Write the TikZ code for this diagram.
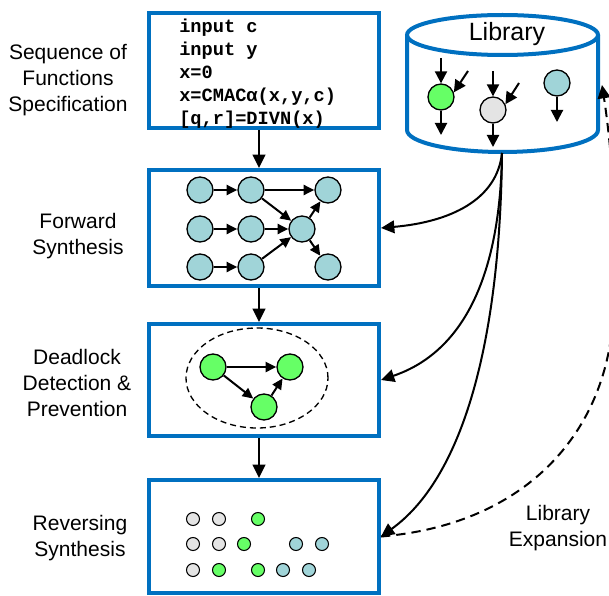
\documentclass[tikz,border=0pt]{standalone}
\usepackage{fontspec}
\setmainfont{Liberation Sans}
\setmonofont{Liberation Mono}
\usetikzlibrary{arrows.meta,calc,shapes.geometric}
\newdimen\pxu \pxu=0.75pt
\definecolor{boxblue}{RGB}{0,112,192}
\definecolor{tealc}{RGB}{160,212,216}
\definecolor{greenc}{RGB}{102,255,102}
\definecolor{grayc}{RGB}{228,228,228}
\begin{document}
\begin{tikzpicture}[x=0.75pt,y=-0.75pt,
  stage/.style={draw=boxblue,line width=3pt,minimum width=230\pxu,inner sep=0pt},
  lbl/.style={align=center,font=\fontsize{15.75}{19.5}\selectfont},
  code/.style={anchor=base west,inner sep=0pt,font=\fontsize{14}{17}\selectfont\ttfamily\bfseries},
  big/.style={circle,draw,line width=1pt,minimum size=26\pxu,inner sep=0pt},
  small/.style={circle,draw,line width=0.8pt,minimum size=13\pxu,inner sep=0pt},
  tealn/.style={big,fill=tealc},
  greenn/.style={big,fill=greenc},
  grayn/.style={big,fill=grayc},
  stl/.style={small,fill=tealc},
  sgr/.style={small,fill=greenc},
  sgy/.style={small,fill=grayc},
  arr/.style={line width=1.5pt,-{Triangle[length=10pt,width=9.5pt]}},
  garr/.style={line width=1.5pt,-{Triangle[length=8pt,width=7.5pt]}},
  larr/.style={line width=1.5pt,-{Triangle[length=9pt,width=9pt]}},
  cyl/.style={draw=boxblue,line width=3pt},
  dasharr/.style={line width=1.5pt,dash pattern=on 7pt off 4.5pt,-{Triangle[length=10pt,width=9.5pt]}}
]
\useasboundingbox (0,0) rectangle (609,595);
\clip (0,0) rectangle (609,595);

% stage boxes
\node[stage,minimum height=115\pxu] (box1) at (264,70.5) {};
\node[stage,minimum height=116\pxu] (box2) at (264,228) {};
\node[stage,minimum height=112\pxu] (box3) at (264,380) {};
\node[stage,minimum height=113\pxu] (box4) at (264,536.5) {};

% left labels
\node[lbl] (lab1) at (68,80) {Sequence of\\Functions\\Specification};
\node[lbl] (lab2) at (78,236) {Forward\\Synthesis};
\node[lbl] (lab3) at (77,383) {Deadlock\\Detection \&\\Prevention};
\node[lbl] (lab4) at (80,538) {Reversing\\Synthesis};
\node[lbl] (labx) at (558,528) {Library\\Expansion};

% code
\node[code] (t1) at (179,33) {input c};
\node[code] (t2) at (179,56) {input y};
\node[code] (t3) at (179,79) {x=0};
\node[code] (t4) at (179,102) {x=CMACα(x,y,c)};
\node[code] (t5) at (179,125) {[q,r]=DIVN(x)};

% arrows between stages
\coordinate (ax) at (259,0);
\draw[arr] (ax |- box1.south) -- (ax |- box2.north);
\draw[arr] (ax |- box2.south) -- (ax |- box3.north);
\draw[arr] (ax |- box3.south) -- (ax |- box4.north);

% library cylinder
\draw[cyl] (407,35) -- (407,130) arc[start angle=180,end angle=0,x radius=95.5,y radius=22] -- (598,35);
\draw[cyl] (502.5,35) ellipse[x radius=95.5,y radius=20];
\node[font=\fontsize{18.75}{22}\selectfont,anchor=base] (lib) at (507,41) {Library};
\coordinate (libbot) at (502,153);
\coordinate (libin) at (602,85);

% library contents
\node[greenn] (gL) at (441,97) {};
\node[grayn] (grL) at (493,110) {};
\node[tealn] (tL) at (557,83) {};
\coordinate (gLin1) at (441,58);
\coordinate (gLin2) at (468,71);
\coordinate (gLout) at (441,135);
\coordinate (grLin1) at (493,71);
\coordinate (grLin2) at (519,83);
\coordinate (grLout) at (493,147);
\coordinate (tLout) at (557,122);
\draw[larr] (gLin1) -- (gL);
\draw[larr] (gLin2) -- (gL.20);
\draw[larr] (gL) -- (gLout);
\draw[larr] (grLin1) -- (grL);
\draw[larr] (grLin2) -- (grL.25);
\draw[larr] (grL) -- (grLout);
\draw[larr] (tL) -- (tLout);

% forward synthesis graph
\node[tealn] (a1) at (200,190) {};
\node[tealn] (a2) at (251,190) {};
\node[tealn] (a4) at (328,190) {};
\node[tealn] (b1) at (200,229) {};
\node[tealn] (b2) at (251,229) {};
\node[tealn] (b3) at (302,229) {};
\node[tealn] (c1) at (200,267) {};
\node[tealn] (c2) at (251,267) {};
\node[tealn] (c4) at (328,267) {};
\draw[garr] (a1) -- (a2);
\draw[garr] (a2) -- (a4);
\draw[garr] (a2) -- (b3);
\draw[garr] (b1) -- (b2);
\draw[garr] (b2) -- (b3);
\draw[garr] (c1) -- (c2);
\draw[garr] (c2) -- (b3);
\draw[garr] (b3) -- (a4);
\draw[garr] (b3) -- (c4);

% deadlock graph
\node[draw,ellipse,line width=1pt,dash pattern=on 4.5pt off 3pt,minimum width=142\pxu,minimum height=100\pxu,inner sep=0pt] (dl) at (257,378) {};
\node[greenn] (g1) at (213,367) {};
\node[greenn] (g2) at (290,367) {};
\node[greenn] (g3) at (264,407) {};
\draw[garr] (g1) -- (g2);
\draw[garr] (g1) -- (g3);
\draw[garr] (g3) -- (g2);

% reversing synthesis dots
\node[sgy] (r11) at (193,519) {};
\node[sgy] (r12) at (219,519) {};
\node[sgr] (r13) at (258,519) {};
\node[sgy] (r21) at (193,544) {};
\node[sgy] (r22) at (219,544) {};
\node[sgr] (r23) at (244,544) {};
\node[stl] (r24) at (296,544) {};
\node[stl] (r25) at (322,544) {};
\node[sgy] (r31) at (193,570) {};
\node[sgr] (r32) at (219,570) {};
\node[sgr] (r33) at (258,570) {};
\node[stl] (r34) at (283,570) {};
\node[stl] (r35) at (309,570) {};

% library curves
\draw[arr] (libbot) .. controls (497,200) and (450,222) .. (box2.east);
\draw[arr] (libbot) .. controls (500,290) and (455,355) .. (box3.east);
\draw[arr] (libbot) .. controls (500,350) and (460,480) .. (box4.east);
\draw[dasharr] (box4.east) .. controls (520,525) and (600,440) .. (612,330)
   .. controls (620,250) and (612,150) .. (libin);
\end{tikzpicture}
\end{document}
